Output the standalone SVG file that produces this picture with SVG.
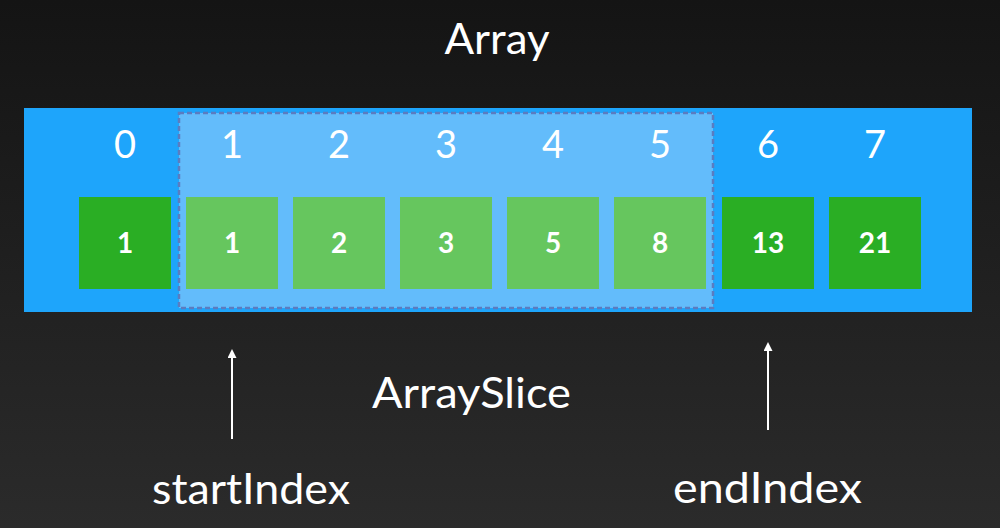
<svg xmlns="http://www.w3.org/2000/svg" width="1000" height="528" viewBox="0 0 1000 528">
  <defs>
    <linearGradient id="bg" x1="0" y1="0" x2="0" y2="1">
      <stop offset="0" stop-color="#141414"/>
      <stop offset="1" stop-color="#2b2b2b"/>
    </linearGradient>
    <marker id="head" viewBox="0 0 10 10" refX="1" refY="5" markerWidth="10" markerHeight="9" markerUnits="userSpaceOnUse" orient="auto">
      <path d="M0,0 L10,5 L0,10 Z" fill="#ffffff"/>
    </marker>
    <style>
      .t { font-family: Lato, "Noto Sans", "Liberation Sans", sans-serif; fill: #ffffff; text-anchor: middle; }
      .big { font-size: 42px; }
      .idx { font-size: 38px; }
      .val { font-size: 28px; font-weight: bold; }
      .cell { fill: #2aae24; }
      .cell.in { fill: #66c65e; }
      .arrow { stroke: #ffffff; stroke-width: 2; fill: none; marker-end: url(#head); }
    </style>
  </defs>

  <rect width="1000" height="528" fill="url(#bg)"/>

  <text class="t big" x="497" y="54" textLength="105" lengthAdjust="spacingAndGlyphs">Array</text>

  <g id="array">
    <rect x="24" y="108" width="948" height="204" fill="#1ea5fb"/>
    <rect id="slice" x="179" y="113" width="534" height="195" fill="#63bcfb" stroke="#5b7cc0" stroke-width="2.5" stroke-dasharray="5 3"/>
  </g>

  <g id="cell0"><text class="t idx" x="125" y="158">0</text><rect class="cell" x="79" y="197" width="92" height="92"/><text class="t val" x="125" y="253">1</text></g>
  <g id="cell1"><text class="t idx" x="232" y="158">1</text><rect class="cell in" x="186" y="197" width="92" height="92"/><text class="t val" x="232" y="253">1</text></g>
  <g id="cell2"><text class="t idx" x="339" y="158">2</text><rect class="cell in" x="293" y="197" width="92" height="92"/><text class="t val" x="339" y="253">2</text></g>
  <g id="cell3"><text class="t idx" x="446" y="158">3</text><rect class="cell in" x="400" y="197" width="92" height="92"/><text class="t val" x="446" y="253">3</text></g>
  <g id="cell4"><text class="t idx" x="553" y="158">4</text><rect class="cell in" x="507" y="197" width="92" height="92"/><text class="t val" x="553" y="253">5</text></g>
  <g id="cell5"><text class="t idx" x="660" y="158">5</text><rect class="cell in" x="614" y="197" width="92" height="92"/><text class="t val" x="660" y="253">8</text></g>
  <g id="cell6"><text class="t idx" x="768" y="158">6</text><rect class="cell" x="722" y="197" width="92" height="92"/><text class="t val" x="768" y="253">13</text></g>
  <g id="cell7"><text class="t idx" x="875" y="158">7</text><rect class="cell" x="829" y="197" width="92" height="92"/><text class="t val" x="875" y="253">21</text></g>

  <text class="t big" x="471.5" y="408" textLength="199" lengthAdjust="spacingAndGlyphs">ArraySlice</text>

  <g id="connectors">
    <line class="arrow" x1="232" y1="439" x2="232" y2="357"/>
    <line class="arrow" x1="768" y1="430" x2="768" y2="350"/>
  </g>

  <g id="startIndex"><text class="t big" x="251" y="504" textLength="198" lengthAdjust="spacingAndGlyphs">startIndex</text></g>
  <g id="endIndex"><text class="t big" x="767.5" y="503" textLength="189" lengthAdjust="spacingAndGlyphs">endIndex</text></g>
</svg>
